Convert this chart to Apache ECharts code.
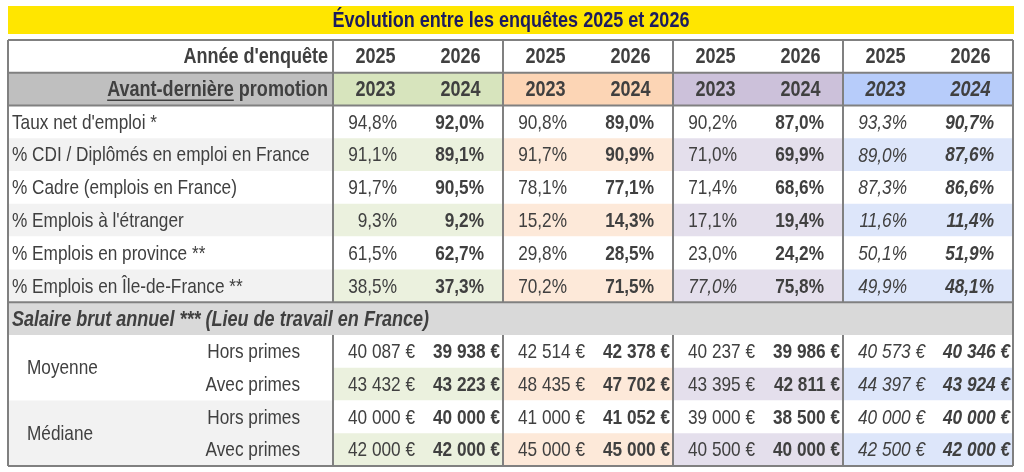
<!DOCTYPE html>
<html>
<head>
<meta charset="utf-8">
<script src="https://cdn.jsdelivr.net/npm/echarts@6/dist/echarts.min.js"></script>
<style>
  html, body { margin: 0; padding: 0; background: #fff; }
  #chart { width: 1024px; height: 472px; }
</style>
</head>
<body>
<div id="chart"></div>
<script>
// ---- données ----
const title = 'Évolution entre les enquêtes 2025 et 2026';
const surveyYears = ['2025', '2026'];
const promoYears = ['2023', '2024'];
const surveyHead = "Année d'enquête";
const promoHead = ['Avant-dernière', ' promotion'];
const rateLabels = [
  "Taux net d'emploi *",
  '% CDI / Diplômés en emploi en France',
  '% Cadre (emplois en France)',
  "% Emplois à l'étranger",
  '% Emplois en province **',
  '% Emplois en Île-de-France **'
];
const salaryHead = 'Salaire brut annuel *** (Lieu de travail en France)';
const salaryStats = ['Moyenne', 'Médiane'];
const salaryKinds = ['Hors primes', 'Avec primes'];

// une ligne par groupe (vert, orange, violet, bleu)
const rates2025 = [
  [94.8, 91.1, 91.7, 9.3, 61.5, 38.5],
  [90.8, 91.7, 78.1, 15.2, 29.8, 70.2],
  [90.2, 71.0, 71.4, 17.1, 23.0, 77.0],
  [93.3, 89.0, 87.3, 11.6, 50.1, 49.9]
];
const rates2026 = [
  [92.0, 89.1, 90.5, 9.2, 62.7, 37.3],
  [89.0, 90.9, 77.1, 14.3, 28.5, 71.5],
  [87.0, 69.9, 68.6, 19.4, 24.2, 75.8],
  [90.7, 87.6, 86.6, 11.4, 51.9, 48.1]
];
// moyenne hors / avec primes, médiane hors / avec primes
const salary2025 = [
  [40087, 43432, 40000, 42000],
  [42514, 48435, 41000, 45000],
  [40237, 43395, 39000, 40500],
  [40573, 44397, 40000, 42500]
];
const salary2026 = [
  [39938, 43223, 40000, 42000],
  [42378, 47702, 41052, 45000],
  [39986, 42811, 38500, 40000],
  [40346, 43924, 40000, 42000]
];

// ---- mise en page ----
const FONT = '"Liberation Sans", Arial, sans-serif';
const NARROW = 0.82;
const FS = 21, FS_HEAD = 22;
const LABEL_W = 325, SUB_W = 85, ROWS = 13;
const TEXT = '#404040';
const BORDER = '#808080';
const headFill = ['#D7E4BD', '#FCD5B5', '#CCC1DA', '#B7CCFA'];
const tintFill = ['#EBF1DE', '#FDE9D9', '#E4DFEC', '#DDE6FA'];
const LABEL_TINT = '#F2F2F2';
const italicGroup = 3;

const fmtPct = v => v.toFixed(1).replace('.', ',') + '%';
const fmtEur = v => String(v).replace(/\B(?=(\d{3})+(?!\d))/g, ' ') + ' €';
const colX = (g, s) => LABEL_W + (g * 2 + s) * SUB_W;

const cells = [];
function cell(x0, x1, r0, r1, o) { cells.push(Object.assign({ x0, x1, r0, r1 }, o)); }

// en-têtes
cell(0, LABEL_W, 0, 1, { fill: '#fff', text: surveyHead, align: 'right', pad: 5, bold: true, size: FS_HEAD });
cell(0, LABEL_W, 1, 2, { fill: '#BFBFBF', text: promoHead.join(''), align: 'right', pad: 5, bold: true, size: FS_HEAD, underline: true });
for (let g = 0; g < 4; g++) {
  for (let s = 0; s < 2; s++) {
    cell(colX(g, s), colX(g, s) + SUB_W, 0, 1, { fill: '#fff', text: surveyYears[s], align: 'center', bold: true, size: FS_HEAD });
    cell(colX(g, s), colX(g, s) + SUB_W, 1, 2, { fill: headFill[g], text: promoYears[s], align: 'center', bold: true, size: FS_HEAD, italic: g === italicGroup });
  }
}
// taux
rateLabels.forEach((lab, i) => {
  const r = 2 + i, tinted = i % 2 === 1;
  cell(0, LABEL_W, r, r + 1, { fill: tinted ? LABEL_TINT : '#fff', text: lab, align: 'left', pad: 4 });
  for (let g = 0; g < 4; g++) {
    const fill = tinted ? tintFill[g] : '#fff';
    const odd = g === 2 && i === 5;
    cell(colX(g, 0), colX(g, 0) + SUB_W, r, r + 1, { fill, text: fmtPct(rates2025[g][i]), align: 'right', pad: 21, italic: g === italicGroup || odd });
    cell(colX(g, 1), colX(g, 1) + SUB_W, r, r + 1, { fill, text: fmtPct(rates2026[g][i]), align: 'right', pad: 19, bold: true, italic: g === italicGroup });
  }
});
// salaires
cell(0, LABEL_W + 8 * SUB_W, 8, 9, { fill: '#D9D9D9', text: salaryHead, align: 'left', pad: 4, bold: true, italic: true, size: FS_HEAD });
salaryStats.forEach((st, k) => {
  const r = 9 + k * 2;
  cell(0, LABEL_W, r, r + 2, { fill: k === 1 ? LABEL_TINT : '#fff', text: st, align: 'left', pad: 19 });
  salaryKinds.forEach((kind, j) => {
    const row = r + j, idx = k * 2 + j;
    cell(0, LABEL_W, row, row + 1, { text: kind, align: 'right', pad: 33 });
    for (let g = 0; g < 4; g++) {
      const fill = j === 1 ? tintFill[g] : '#fff';
      cell(colX(g, 0), colX(g, 0) + SUB_W, row, row + 1, { fill, text: fmtEur(salary2025[g][idx]), align: 'right', pad: 3, italic: g === italicGroup });
      cell(colX(g, 1), colX(g, 1) + SUB_W, row, row + 1, { fill, text: fmtEur(salary2026[g][idx]), align: 'right', pad: 3, bold: true, italic: g === italicGroup });
    }
  });
});

// bordures
const TABLE_W = LABEL_W + 8 * SUB_W;
const borders = [
  [0, 0, TABLE_W, 0], [0, ROWS, TABLE_W, ROWS], [0, 0, 0, ROWS], [TABLE_W, 0, TABLE_W, ROWS],
  [0, 1, TABLE_W, 1], [0, 2, TABLE_W, 2], [0, 8, TABLE_W, 8]
];
for (let g = 0; g < 4; g++) {
  borders.push([colX(g, 0), 0, colX(g, 0), 8]);
  borders.push([colX(g, 0), 9, colX(g, 0), ROWS]);
}

const fontOf = c => (c.italic ? 'italic ' : '') + (c.bold ? 'bold ' : '') + (c.size || FS) + 'px ' + FONT;
const measureCtx = document.createElement('canvas').getContext('2d');
function textW(str, font) { measureCtx.font = font; return measureCtx.measureText(str).width * NARROW; }

function renderCell(params, api) {
  const c = cells[api.value(4)];
  const p0 = api.coord([c.x0, c.r0]);
  const p1 = api.coord([c.x1, c.r1]);
  const children = [];
  if (c.fill) {
    children.push({
      type: 'rect',
      shape: { x: p0[0], y: p0[1], width: p1[0] - p0[0], height: p1[1] - p0[1] },
      style: { fill: c.fill }
    });
  }
  if (c.text) {
    const tx = c.align === 'left' ? p0[0] + c.pad : c.align === 'right' ? p1[0] - c.pad : (p0[0] + p1[0]) / 2;
    const ty = (p0[1] + p1[1]) / 2 + 1;
    const font = fontOf(c);
    children.push({
      type: 'text', x: tx, y: ty, scaleX: NARROW,
      style: { text: c.text, x: 0, y: 0, align: c.align, verticalAlign: 'middle', font, fill: TEXT }
    });
    if (c.underline) {
      const full = textW(c.text, font), rest = textW(promoHead[1], font);
      children.push({
        type: 'line',
        shape: { x1: tx - full, y1: ty + 10, x2: tx - rest, y2: ty + 10 },
        style: { stroke: TEXT, lineWidth: 1.5 }
      });
    }
  }
  return { type: 'group', children };
}

function renderBorder(params, api) {
  const a = api.coord([api.value(0), api.value(1)]);
  const b = api.coord([api.value(2), api.value(3)]);
  return { type: 'line', shape: { x1: a[0], y1: a[1], x2: b[0], y2: b[1] }, style: { stroke: BORDER, lineWidth: 2 } };
}

const chart = echarts.init(document.getElementById('chart'));
chart.setOption({
  animation: false,
  backgroundColor: '#fff',
  graphic: [
    { type: 'rect', left: 8, top: 6, shape: { width: 1006, height: 28 }, style: { fill: '#FFE600' } },
    {
      type: 'text', x: 511, y: 21, scaleX: NARROW,
      style: { text: title, x: 0, y: 0, align: 'center', verticalAlign: 'middle', font: 'bold 22px ' + FONT, fill: '#1C1C5E' }
    }
  ],
  grid: { left: 8, top: 40, width: TABLE_W, height: 426 },
  xAxis: { type: 'value', min: 0, max: TABLE_W, show: false },
  yAxis: { type: 'value', min: 0, max: ROWS, inverse: true, show: false },
  series: [
    {
      type: 'custom', renderItem: renderCell, clip: false,
      encode: { x: [0, 2], y: [1, 3] },
      data: cells.map((c, i) => [c.x0, c.r0, c.x1, c.r1, i])
    },
    {
      type: 'custom', renderItem: renderBorder, clip: false, z: 5,
      encode: { x: [0, 2], y: [1, 3] },
      data: borders
    }
  ]
});
</script>
</body>
</html>
